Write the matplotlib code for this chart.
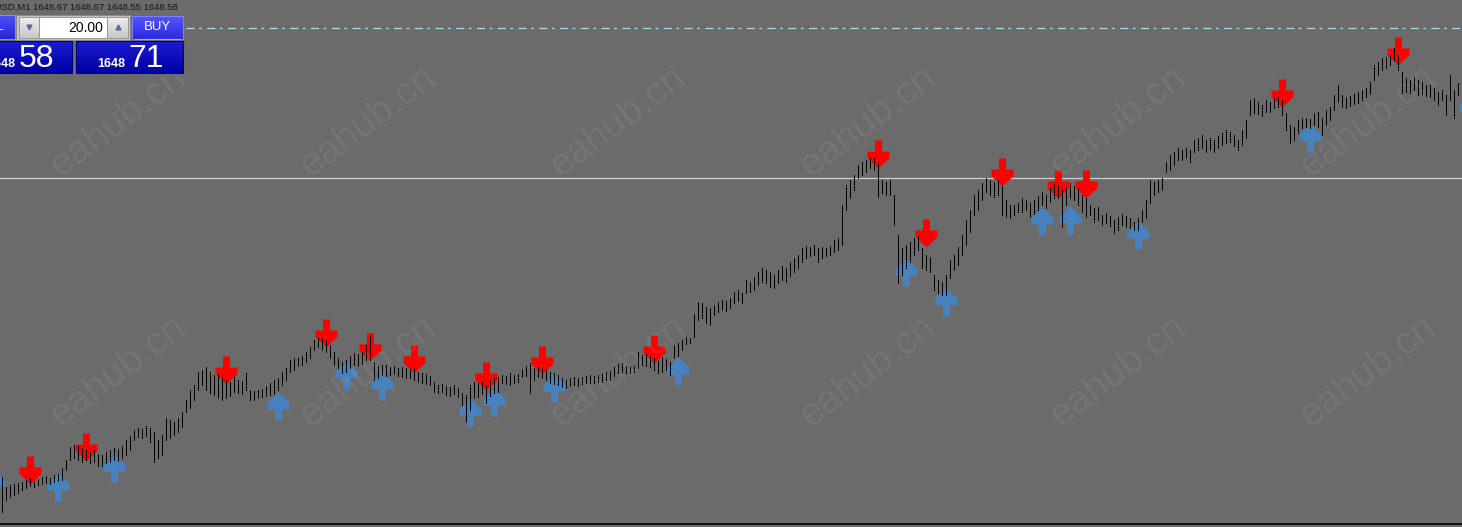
"""MT4-style M1 bar chart with buy/sell arrow signals (XAUUSD screenshot)."""
import matplotlib
matplotlib.use("Agg")
import matplotlib.pyplot as plt
import numpy as np
from matplotlib.colors import to_rgb
from matplotlib.patches import Rectangle
from matplotlib.path import Path

# ── figure / style constants ─────────────────────────────────────────
W, H, DPI = 1462, 527, 100
BG = "#6b6b6b"
FONT = "Liberation Sans"
SELL_RED = "#ff0000"
BUY_BLUE = "#4682c0"

# ── data: M1 bars, oldest -> newest ──────────────────────────────────
highs = [
    1644.73, 1644.63, 1644.65, 1644.66, 1644.67, 1644.68, 1644.70, 1644.72, 1644.69, 1644.71,
    1644.73, 1644.74, 1644.72, 1644.75, 1644.76, 1644.82, 1644.90, 1645.03, 1645.05, 1645.04,
    1645.02, 1645.00, 1644.98, 1645.00, 1644.96, 1644.95, 1644.98, 1645.00, 1645.02, 1645.01,
    1645.04, 1645.10, 1645.14, 1645.20, 1645.22, 1645.21, 1645.24, 1645.22, 1645.18, 1645.10,
    1645.15, 1645.32, 1645.30, 1645.28, 1645.32, 1645.38, 1645.50, 1645.60, 1645.65, 1645.78,
    1645.80, 1645.83, 1645.78, 1645.75, 1645.77, 1645.72, 1645.70, 1645.68, 1645.74, 1645.70,
    1645.69, 1645.77, 1645.60, 1645.59, 1645.60, 1645.61, 1645.64, 1645.67, 1645.70, 1645.72,
    1645.78, 1645.82, 1645.90, 1645.92, 1645.92, 1645.94, 1645.98, 1646.03, 1646.10, 1646.13,
    1646.12, 1646.10, 1646.05, 1645.98, 1645.92, 1645.88, 1645.90, 1645.94, 1645.97, 1645.96,
    1645.98, 1646.05, 1646.15, 1645.88, 1645.84, 1645.85, 1645.85, 1645.83, 1645.84, 1645.82,
    1645.83, 1645.82, 1645.81, 1645.82, 1645.78, 1645.77, 1645.76, 1645.74, 1645.68, 1645.65,
    1645.66, 1645.64, 1645.63, 1645.65, 1645.62, 1645.57, 1645.55, 1645.65, 1645.68, 1645.67,
    1645.68, 1645.65, 1645.70, 1645.72, 1645.73, 1645.75, 1645.74, 1645.77, 1645.75, 1645.76,
    1645.81, 1645.84, 1645.87, 1645.82, 1645.83, 1645.82, 1645.80, 1645.78, 1645.77, 1645.75,
    1645.72, 1645.70, 1645.72, 1645.73, 1645.72, 1645.73, 1645.74, 1645.75, 1645.74, 1645.75,
    1645.77, 1645.78, 1645.79, 1645.84, 1645.86, 1645.87, 1645.84, 1645.83, 1645.84, 1645.98,
    1645.95, 1645.96, 1645.94, 1645.92, 1645.90, 1645.93, 1645.91, 1645.88, 1646.05, 1646.07,
    1646.10, 1646.13, 1646.12, 1646.36, 1646.48, 1646.47, 1646.43, 1646.42, 1646.45, 1646.48,
    1646.50, 1646.49, 1646.52, 1646.58, 1646.60, 1646.57, 1646.70, 1646.68, 1646.73, 1646.78,
    1646.82, 1646.80, 1646.78, 1646.75, 1646.80, 1646.84, 1646.82, 1646.88, 1646.92, 1646.95,
    1647.02, 1647.04, 1647.03, 1647.05, 1647.02, 1647.03, 1647.02, 1647.04, 1647.10, 1647.12,
    1647.45, 1647.65, 1647.70, 1647.75, 1647.85, 1647.88, 1647.90, 1647.93, 1647.92, 1647.87,
    1647.70, 1647.68, 1647.70, 1647.55, 1647.15, 1647.02, 1647.05, 1647.08, 1647.12, 1647.15,
    1647.02, 1646.95, 1646.93, 1646.75, 1646.70, 1646.68, 1646.75, 1646.90, 1646.95, 1647.03,
    1647.15, 1647.30, 1647.40, 1647.55, 1647.60, 1647.67, 1647.72, 1647.70, 1647.68, 1647.70,
    1647.65, 1647.50, 1647.45, 1647.45, 1647.47, 1647.52, 1647.50, 1647.47, 1647.50, 1647.54,
    1647.58, 1647.55, 1647.62, 1647.67, 1647.65, 1647.60, 1647.62, 1647.67, 1647.64, 1647.62,
    1647.55, 1647.52, 1647.45, 1647.42, 1647.43, 1647.35, 1647.37, 1647.34, 1647.30, 1647.33,
    1647.36, 1647.34, 1647.32, 1647.28, 1647.32, 1647.40, 1647.50, 1647.70, 1647.68, 1647.70,
    1647.72, 1647.88, 1647.95, 1647.98, 1648.02, 1648.00, 1648.02, 1648.00, 1648.10, 1648.12,
    1648.15, 1648.10, 1648.12, 1648.10, 1648.14, 1648.17, 1648.20, 1648.18, 1648.15, 1648.10,
    1648.20, 1648.30, 1648.50, 1648.52, 1648.48, 1648.45, 1648.50, 1648.48, 1648.52, 1648.53,
    1648.50, 1648.37, 1648.25, 1648.23, 1648.30, 1648.32, 1648.32, 1648.31, 1648.37, 1648.38,
    1648.32, 1648.40, 1648.43, 1648.55, 1648.65, 1648.55, 1648.53, 1648.54, 1648.56, 1648.58,
    1648.60, 1648.62, 1648.68, 1648.85, 1648.88, 1648.92, 1648.93, 1648.95, 1649.02, 1648.95,
    1648.78, 1648.72, 1648.70, 1648.73, 1648.70, 1648.68, 1648.65, 1648.65, 1648.62, 1648.58,
    1648.60, 1648.55, 1648.75, 1648.60, 1648.67,
]
lows = [
    1644.38, 1644.50, 1644.53, 1644.55, 1644.57, 1644.60, 1644.62, 1644.64, 1644.63, 1644.65,
    1644.66, 1644.67, 1644.66, 1644.68, 1644.69, 1644.70, 1644.80, 1644.90, 1644.92, 1644.90,
    1644.88, 1644.90, 1644.87, 1644.88, 1644.84, 1644.84, 1644.87, 1644.88, 1644.90, 1644.89,
    1644.92, 1644.95, 1645.00, 1645.10, 1645.13, 1645.12, 1645.14, 1645.08, 1644.88, 1644.92,
    1644.95, 1645.10, 1645.12, 1645.15, 1645.18, 1645.23, 1645.38, 1645.42, 1645.50, 1645.60,
    1645.65, 1645.60, 1645.57, 1645.55, 1645.52, 1645.50, 1645.52, 1645.54, 1645.58, 1645.57,
    1645.56, 1645.60, 1645.50, 1645.50, 1645.52, 1645.53, 1645.54, 1645.55, 1645.56, 1645.60,
    1645.65, 1645.70, 1645.78, 1645.80, 1645.84, 1645.85, 1645.88, 1645.92, 1646.00, 1646.03,
    1646.00, 1645.98, 1645.92, 1645.85, 1645.82, 1645.77, 1645.78, 1645.82, 1645.85, 1645.84,
    1645.86, 1645.90, 1645.90, 1645.70, 1645.72, 1645.75, 1645.74, 1645.75, 1645.76, 1645.74,
    1645.73, 1645.72, 1645.72, 1645.70, 1645.68, 1645.67, 1645.66, 1645.65, 1645.58, 1645.57,
    1645.58, 1645.55, 1645.54, 1645.56, 1645.53, 1645.45, 1645.28, 1645.40, 1645.52, 1645.53,
    1645.56, 1645.47, 1645.54, 1645.57, 1645.58, 1645.67, 1645.66, 1645.65, 1645.67, 1645.68,
    1645.73, 1645.74, 1645.57, 1645.70, 1645.73, 1645.72, 1645.70, 1645.67, 1645.66, 1645.65,
    1645.63, 1645.62, 1645.64, 1645.65, 1645.64, 1645.66, 1645.67, 1645.67, 1645.67, 1645.68,
    1645.68, 1645.70, 1645.70, 1645.74, 1645.77, 1645.78, 1645.77, 1645.77, 1645.78, 1645.82,
    1645.85, 1645.84, 1645.83, 1645.80, 1645.77, 1645.78, 1645.80, 1645.75, 1645.92, 1645.94,
    1646.00, 1646.06, 1646.07, 1646.13, 1646.30, 1646.32, 1646.27, 1646.25, 1646.35, 1646.38,
    1646.40, 1646.39, 1646.42, 1646.47, 1646.49, 1646.47, 1646.57, 1646.58, 1646.60, 1646.65,
    1646.68, 1646.67, 1646.63, 1646.62, 1646.67, 1646.70, 1646.68, 1646.74, 1646.78, 1646.82,
    1646.88, 1646.92, 1646.94, 1646.95, 1646.88, 1646.92, 1646.94, 1646.95, 1646.98, 1647.00,
    1647.05, 1647.40, 1647.52, 1647.60, 1647.72, 1647.75, 1647.78, 1647.82, 1647.80, 1647.53,
    1647.57, 1647.55, 1647.55, 1647.25, 1646.67, 1646.75, 1646.82, 1646.88, 1646.95, 1647.00,
    1646.82, 1646.80, 1646.78, 1646.60, 1646.57, 1646.55, 1646.55, 1646.72, 1646.80, 1646.85,
    1646.95, 1647.05, 1647.18, 1647.35, 1647.40, 1647.50, 1647.58, 1647.55, 1647.53, 1647.55,
    1647.35, 1647.33, 1647.32, 1647.35, 1647.38, 1647.38, 1647.40, 1647.33, 1647.36, 1647.40,
    1647.45, 1647.42, 1647.48, 1647.52, 1647.52, 1647.23, 1647.45, 1647.52, 1647.50, 1647.45,
    1647.38, 1647.33, 1647.35, 1647.28, 1647.30, 1647.25, 1647.27, 1647.24, 1647.17, 1647.20,
    1647.25, 1647.23, 1647.22, 1647.20, 1647.20, 1647.28, 1647.32, 1647.47, 1647.55, 1647.58,
    1647.60, 1647.78, 1647.80, 1647.85, 1647.90, 1647.90, 1647.92, 1647.88, 1647.98, 1648.00,
    1648.02, 1647.98, 1648.00, 1647.98, 1648.02, 1648.05, 1648.07, 1648.08, 1648.04, 1648.00,
    1648.05, 1648.12, 1648.35, 1648.37, 1648.36, 1648.34, 1648.38, 1648.38, 1648.42, 1648.43,
    1648.35, 1648.20, 1648.07, 1648.10, 1648.17, 1648.22, 1648.23, 1648.22, 1648.25, 1648.23,
    1648.15, 1648.25, 1648.30, 1648.40, 1648.48, 1648.43, 1648.42, 1648.44, 1648.46, 1648.47,
    1648.50, 1648.53, 1648.56, 1648.70, 1648.75, 1648.80, 1648.82, 1648.85, 1648.90, 1648.80,
    1648.57, 1648.58, 1648.57, 1648.60, 1648.55, 1648.56, 1648.54, 1648.53, 1648.50, 1648.45,
    1648.50, 1648.35, 1648.50, 1648.32, 1648.55,
]

# signal arrows: bar index + price of the arrow tip
sell_bars = [7, 21, 56, 81, 92, 103, 121, 135, 163, 219, 231, 250, 264, 271, 320, 349]
sell_prices = [1644.66, 1644.89, 1645.66, 1646.03, 1645.89, 1645.77, 1645.60, 1645.76,
               1645.87, 1647.82, 1647.03, 1647.64, 1647.52, 1647.52, 1648.43, 1648.85]
buy_bars = [-2, 14, 28, 69, 86, 95, 117, 123, 138, 169, 226, 236, 260, 267, 284, 327, 367]
buy_prices = [1644.80, 1644.77, 1644.96, 1645.58, 1645.89, 1645.78, 1645.52, 1645.62,
              1645.76, 1645.93, 1646.92, 1646.62, 1647.43, 1647.44, 1647.29, 1648.26, 1648.56]

# horizontal levels
level_white = 1647.72
level_dashdot = 1649.22
price_top = 1649.50
price_span = 5.24

# header / trade panel texts
header_text = "XAUUSD,M1 1648.67 1648.67 1648.55 1648.58"
lot_text = "20.00"
bid_big, ask_big = "58", "71"
price_prefix = "1648"

n = min(len(highs), len(lows))
if len(highs) != len(lows):
    print("warning: highs/lows length mismatch", len(highs), len(lows))
x = np.arange(n)

fig = plt.figure(figsize=(W / DPI, H / DPI), dpi=DPI, facecolor=BG)

# ── price pane ───────────────────────────────────────────────────────
ax = fig.add_axes([0, 3 / H, 1, (H - 3) / H])
ax.set_facecolor(BG)
ax.set_xlim(-0.5, n)
ax.set_ylim(price_top - price_span, price_top)
ax.set_xticks([])
ax.set_yticks([])
for s in ax.spines.values():
    s.set_visible(False)

ax.axhline(level_white, color="#d0d0d0", lw=0.9, zorder=1)
ax.axhline(level_dashdot, xmin=186 / W, xmax=1, color="#a8dce6", lw=0.9,
           dashes=(6.5, 3.6, 2.2, 4.3), zorder=1)


def arrow_path(down=True):
    """MT4 wingdings-like arrow, tip at the origin (units: pixels)."""
    pts = [(0, 0), (11, 10.5), (11, 17), (3.5, 17), (3.5, 28), (-3.5, 28),
           (-3.5, 17), (-11, 17), (-11, 10.5), (0, 0)]
    sgn = 1 if down else -1
    verts = [(px, sgn * py) for px, py in pts]
    codes = [Path.MOVETO] + [Path.LINETO] * (len(verts) - 2) + [Path.CLOSEPOLY]
    return Path(verts, codes)


ms = 2 * 28 * 72 / DPI
ax.plot(sell_bars, sell_prices, ls="none", marker=arrow_path(True), ms=ms,
        mfc=SELL_RED, mec="none", zorder=2)
ax.plot(buy_bars, buy_prices, ls="none", marker=arrow_path(False), ms=ms,
        mfc=BUY_BLUE, mec="none", zorder=2)

ax.vlines(x, lows[:n], highs[:n], colors="black", lw=0.7, antialiased=False, zorder=3)

# ── overlay in pixel coordinates: watermark + trade panel ────────────
ui = fig.add_axes([0, 0, 1, 1])
ui.set_zorder(5)
ui.patch.set_visible(False)
ui.axis("off")

for cy in (122, 372):
    for cx in (118, 368, 618, 868, 1118, 1368):
        ui.text(cx, cy, "eahub.cn", rotation=37, ha="center", va="center",
                fontsize=28, family=FONT, color="white", alpha=0.07, zorder=1)

ui.plot([0, W], [523.5, 523.5], color="black", lw=1.2, zorder=2)


def grad_box(x0, y0, x1, y1, top, bottom, edge=None):
    c0, c1 = np.array(to_rgb(top)), np.array(to_rgb(bottom))
    t = np.linspace(0, 1, 32)[:, None, None]
    ui.imshow(c0 + (c1 - c0) * t, extent=(x0, x1, y1, y0), aspect="auto",
              interpolation="bilinear", zorder=6)
    if edge:
        ui.add_patch(Rectangle((x0, y0), x1 - x0, y1 - y0, fill=False, ec=edge,
                               lw=0.75, zorder=7))


# header line
ui.text(178, 7.5, header_text, ha="right", va="center", fontsize=6.8,
        family=FONT, color="#151515", zorder=8)

# sell button (mostly off-screen)
grad_box(-4, 15, 15, 39, "#5050f8", "#2424d8", edge="#8c8cff")
ui.text(4, 27, "SELL", ha="right", va="center", fontsize=8.5, family=FONT,
        color="white", zorder=8)

# lot spin box
ui.add_patch(Rectangle((16, 15), 114, 25, fc="#c4c4c4", ec="#8a8a8a", lw=0.75, zorder=6))
grad_box(19, 17, 39, 38, "#eeeeee", "#c8c8c8", edge="#9a9a9a")
grad_box(107, 17, 128, 38, "#eeeeee", "#c8c8c8", edge="#9a9a9a")
ui.add_patch(Rectangle((39, 17), 68, 21, fc="white", ec="#9a9a9a", lw=0.75, zorder=7))
ui.plot(28.5, 26.5, marker="v", ms=3.5, color="#5b6b98", zorder=8)
ui.plot(117.5, 26.5, marker="^", ms=3.5, color="#5b6b98", zorder=8)
ui.text(103, 27.5, lot_text, ha="right", va="center", fontsize=10, family=FONT,
        color="black", zorder=8)

# buy button
grad_box(132, 16, 183, 39, "#5656fa", "#2a2ade", edge="#8080ff")
ui.plot([135, 180], [38.5, 38.5], color="#a8a8ff", lw=0.8, zorder=8)
ui.text(157.5, 26.5, "BUY", ha="center", va="center", fontsize=9.5, family=FONT,
        color="white", zorder=8)

# bid / ask quote boxes
grad_box(-4, 41, 72, 73, "#1c1cd0", "#0000a4", edge="#000080")
grad_box(76, 41, 183, 73, "#1c1cd0", "#0000a4", edge="#000080")
for x_small, x_big, big in ((15, 19, bid_big), (125, 128, ask_big)):
    ui.text(x_small, 67, price_prefix, ha="right", va="baseline", fontsize=9,
            fontweight="bold", family=FONT, color="white", zorder=8)
    ui.text(x_big, 67, big, ha="left", va="baseline", fontsize=23, family=FONT,
            color="white", zorder=8)

ui.set_xlim(0, W)
ui.set_ylim(H, 0)

fig.savefig("out.png", dpi=DPI, facecolor=BG)
